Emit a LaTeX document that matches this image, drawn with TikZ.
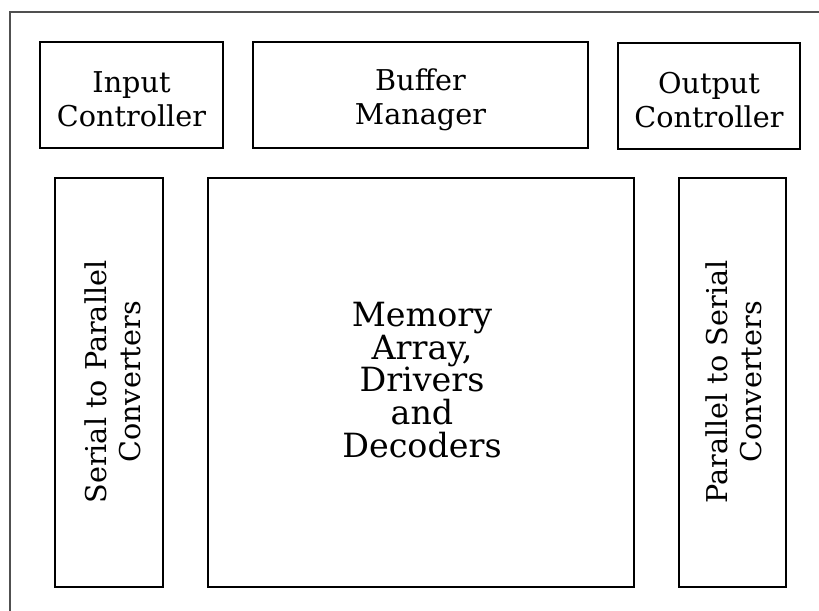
\documentclass[tikz,border=0pt]{standalone}
\usepackage{fontspec}
\setmainfont{DejaVu Serif}
\usepackage{tikz}

\tikzset{every picture/.style={line width=0.75pt}}
\tikzset{
  blockline/.style={line width=2.1pt, line join=miter},
  framecol/.style={line width=1.3pt, draw={rgb, 255:red, 80; green, 80; blue, 80 }},
  labeltext/.style={align=center, font=\fontsize{21.5}{25.5}\selectfont},
  bigtext/.style={align=center, font=\fontsize{25}{24.5}\selectfont}
}

\begin{document}
\begin{tikzpicture}[x=0.75pt,y=0.75pt,yscale=-1,xscale=1]
\useasboundingbox (0,0) rectangle (819,611);

%Straight Lines [id:outerframe] 
\draw [framecol]  (819,12) -- (10,12) -- (10,611) ;

%Shape: Rectangle [id:inputbox] 
\draw [blockline]  (40,42) -- (223,42) -- (223,148) -- (40,148) -- cycle ;
%Shape: Rectangle [id:bufferbox] 
\draw [blockline]  (253,42) -- (588,42) -- (588,148) -- (253,148) -- cycle ;
%Shape: Rectangle [id:outputbox] 
\draw [blockline]  (618,43) -- (800,43) -- (800,149) -- (618,149) -- cycle ;
%Shape: Rectangle [id:s2pbox] 
\draw [blockline]  (55,178) -- (163,178) -- (163,587) -- (55,587) -- cycle ;
%Shape: Rectangle [id:memorybox] 
\draw [blockline]  (208,178) -- (634,178) -- (634,587) -- (208,587) -- cycle ;
%Shape: Rectangle [id:p2sbox] 
\draw [blockline]  (679,178) -- (786,178) -- (786,587) -- (679,587) -- cycle ;

% Text Node
\node [labeltext] (inputctl) at (131.5,99) {Input\\Controller};
% Text Node
\node [labeltext] (bufmgr) at (420.5,100) {Buffer\\Manager};
% Text Node
\node [labeltext] (outputctl) at (709,100) {Output\\Controller};
% Text Node
\node [labeltext, rotate=90] (s2pconv) at (113,382) {Serial to Parallel\\Converters};
% Text Node
\node [bigtext] (memarray) at (422,380) {Memory\\Array,\\Drivers\\and\\Decoders};
% Text Node
\node [labeltext, rotate=90] (p2sconv) at (734,382) {Parallel to Serial\\Converters};

\end{tikzpicture}
\end{document}
